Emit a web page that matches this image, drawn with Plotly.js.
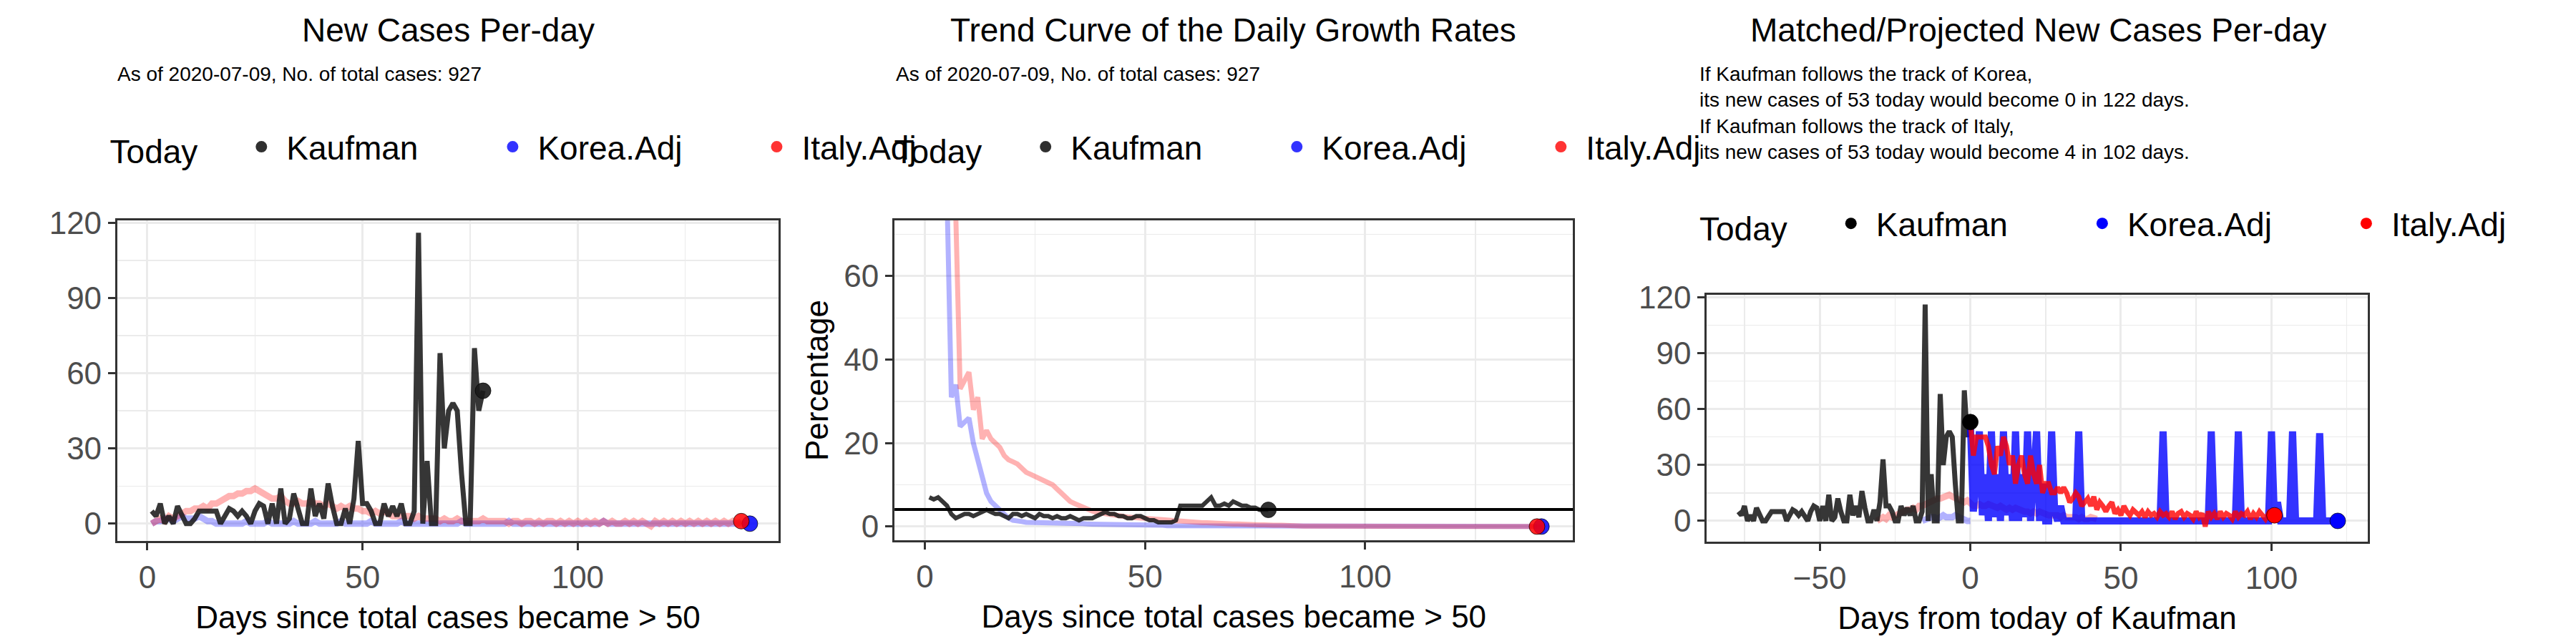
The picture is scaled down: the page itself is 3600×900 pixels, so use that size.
<!DOCTYPE html>
<html>
<head>
<meta charset="utf-8">
<script src="https://cdn.plot.ly/plotly-3.0.1.min.js"></script>
<style>
  html, body { margin: 0; padding: 0; background: #fff; }
  #chart { width: 3600px; height: 900px; }
</style>
</head>
<body>
<div id="chart"></div>
<script>
// Kaufman daily new cases, days 1..78 since total cases > 50
const kaufmanNew = [5,3,8,0,3,0,7,3,0,0,2,5,5,5,5,5,0,3,6,5,3,5,3,0,5,8,7,0,8,0,
  14,0,2,12,5,0,0,14,3,8,2,16,7,0,0,6,0,10,33,8,8,5,0,0,8,3,7,3,8,0,
  0,5,116,0,25,0,0,68,30,45,48,45,20,0,0,70,45,53];
// Italy.Adj new cases, days 1..138
const italyNew = [0,1,2,1,3,2,3,4,5,5, 6,6,7,6,8,8,9,10,11,11, 12,12,13,13,14,13,12,11,10,10,
  11,9,8,8,9,8,8,9,8,8, 7,8,7,6,7,6,7,6,6,5, 5,4,5,4,5,4,3,3,3,3,
  3,2,3,2,2,2,2,1,2,1, 1,2,1,1,1,1,1,2,1,1, 1,1,1,0,1,1,0,1,1,0,
  1,0,1,1,0,1,0,1,0,1, 0,1,0,1,0,1,0,1,0,0, 1,0,1,0,1,0,-1,1,0,1,
  0,1,0,1,0,1,0,1,0,1, 0,1,0,1,0,1,0,1];
// Korea.Adj new cases, days 1..140
const koreaNew = [0,1,1,2,2,1,2,3,2,2, 2,3,2,1,1,0,0,0,0,0, 0,0,1,0,0,0,0,1,0,0,
  0,0,0,1,0,0,0,0,1,0, 0,0,0,0,1,0,0,0,0,0, 0,1,0,0,0,0,0,0,1,0,
  0,0,0,0,0,0,0,0,0,0, 0,0,1,0,0,0,0,0,0,0, 0,0,0,1,0,0,0,0,0,0,
  0,0,0,0,0,0,0,0,0,0, 0,0,0,0,0,1,0,0,0,0, 0,0,0,0,0,0,0,0,0,0,
  0,0,0,0,0,0,0,0,0,0, 0,0,0,0,0,0,0,0,0,0];

// daily growth rates (%)
const kaufmanRate = [7,6.5,7,6,5,3,2,2.5,3,3, 2.5,3,3.5,4,3.5,3,3,2.5,2,3, 3,2.5,3,2.5,2,3,2.5,2.5,2,2.5,
  2,2,2.5,2,1.5,2,2,2,2.5,3, 3.5,3,3,2.5,2.5,2,2,2.5,2.5,2, 1.5,1.5,1,1,1,1,1.5,5,5,5,
  5,5,5,6,7,5,5,5.5,5,6, 5.5,5,5,4.5,4.5,4,4,4];
const italyRate = [200,160,130,110,95,85,75,33,35,37, 28,31,21,23,21,20,19,17,16,15.5,
  15,14,13,12.5,12,11.5,11,10.5,10,9, 8,7,6,5.5,5,4.5,4,3.7,3.4,3.2,
  3,2.8,2.6,2.5,2.4,2.3,2.2,2.1,2,2, 1.9,1.8,1.6,1.5,1.4,1.3,1.2,1.1,1.1,1,
  1,1,0.9,0.9,0.8,0.8,0.7,0.7,0.6,0.6, 0.6,0.5,0.5,0.5,0.5,0.4,0.4,0.3,0.3,0.3,
  0.3,0.2,0.2,0.2,0.2,0.1,0.1,0.1,0.1,0.1, 0.1,0.1,0,0.1,0,0.1,0,0.1,0,0.1,
  0,0.1,0,0,0.1,0,0,0.1,0,0, 0.1,0,0,0,0.1,0,0,0,0,0.1, 0,0,0,0,0,0,0,0,0,0,
  0,0,0,0,0,0,0,0,0];
const koreaRate = [200,150,120,100,80,31,34,24,25,26, 20,16,13,8,6,5,4,3,2,1.5,
  1.5,1.2,1,1,1,1,1,1,1,1, 0.8,0.8,0.8,0.7,0.7,0.7,0.6,0.6,0.6,0.6, 0.5,0.5,0.5,0.5,0.5,
  0.4,0.4,0.4,0.4,0.3,0.3,0.3,0.3,0.3,0.2,0.2,0.2,0.2,0.2,0.2,
  0.1,0.1,0.1,0.1,0.1,0.1,0.1,0.1,0.1,0.1, 0.1,0,0.1,0,0.1,0,0.1,0,0.1,0,
  0,0.1,0,0,0.1,0,0,0.1,0,0, 0,0,0.1,0,0,0,0,0.1,0,0, 0,0,0,0,0,0,0.1,0,0,0,
  0,0,0,0,0,0,0,0,0,0, 0,0,0,0,0,0,0,0,0,0, 0,0,0,0,0,0,0,0,0,0];
const thresholdRate = 4.1;

// projections from today of Kaufman (day 0..)
const koreaProj = [53,5,25,48,3,25,0,48,2,25, 0,48,3,25,0,48,0,25,2,48, 0,25,48,0,20,0,0,48,5,0,
  8,0,0,0,0,0,48,0,0,0, 0,0,0,0,0,0,0,0,0,0, 0,0,0,0,0,0,0,0,0,0,
  0,0,0,0,48,0,0,0,0,0, 0,0,0,0,0,0,0,0,0,0, 48,0,0,0,0,0,0,0,0,48,
  0,0,0,0,0,0,0,0,0,0, 48,0,10,0,0,0,0,48,0,0, 0,0,0,0,0,0,47,0,0,0, 0,0,0];
const italyProj = [53,35,45,45,45,45,40,30,25,40, 35,45,40,30,35,20,30,35,25,20,
  35,25,20,30,15,20,20,15,15,18, 15,18,15,10,12,15,13,8,10,12, 8,13,6,10,8,5,8,10,4,6,
  3,8,5,3,6,4,3,5,2,5, 3,4,2,5,3,4,2,5,1,4, 5,2,4,3,1,5,2,4,-3,5,
  2,4,1,5,2,4,3,1,5,2, 4,3,5,1,4,2,5,3,1,4, 2,3];

const seriesNames = ['Kaufman', 'Korea.Adj', 'Italy.Adj'];
const todayDay = kaufmanNew.length;   // 78
const italyShift = -32;
const koreaShift = -17;

const subtitleText = 'As of 2020-07-09, No. of total cases: 927';
const projText = 'If Kaufman follows the track of Korea,<br>its new cases of 53 today would become 0 in 122 days.<br>' +
  'If Kaufman follows the track of Italy,<br>its new cases of 53 today would become 4 in 102 days.';

const FONT = 'Liberation Sans, Arial, sans-serif';
const days = (arr, start = 1, shift = 0) => arr.map((_, i) => i + start + shift);
const last = (arr) => arr[arr.length - 1];

const cDark = 'rgba(26,26,26,0.88)';
const cBlueFaint = 'rgba(0,0,255,0.3)';
const cRedFaint = 'rgba(255,0,0,0.3)';

function line(x, y, color, width, xa, ya) {
  return { x, y, type: 'scatter', mode: 'lines', line: { color, width }, xaxis: xa, yaxis: ya, showlegend: false, hoverinfo: 'skip' };
}
function dot(x, y, color, xa, ya) {
  return { x: [x], y: [y], type: 'scatter', mode: 'markers', marker: { color, size: 22, line: { color: 'rgba(0,0,0,0.7)', width: 1 } }, xaxis: xa, yaxis: ya, showlegend: false };
}
function legendDots(legend, colors) {
  return seriesNames.map((name, i) => ({
    x: [null], y: [null], type: 'scatter', mode: 'markers', name: name + '\u2003\u2003', legend,
    marker: { color: colors[i], size: 22 }, xaxis: 'x', yaxis: 'y'
  }));
}

const traces = [
  // panel 1
  line(days(koreaNew), koreaNew, cBlueFaint, 9, 'x', 'y'),
  line(days(italyNew), italyNew, cRedFaint, 9, 'x', 'y'),
  line(days(kaufmanNew), kaufmanNew, cDark, 7, 'x', 'y'),
  dot(todayDay, last(kaufmanNew), 'rgba(26,26,26,0.9)', 'x', 'y'),
  dot(koreaNew.length, last(koreaNew), 'rgba(0,0,255,0.85)', 'x', 'y'),
  dot(italyNew.length, last(italyNew), 'rgba(255,0,0,0.85)', 'x', 'y'),
  // panel 2
  line(days(koreaRate), koreaRate, cBlueFaint, 7, 'x2', 'y2'),
  line(days(italyRate), italyRate, cRedFaint, 7, 'x2', 'y2'),
  line(days(kaufmanRate), kaufmanRate, cDark, 6, 'x2', 'y2'),
  dot(todayDay, last(kaufmanRate), 'rgba(26,26,26,0.9)', 'x2', 'y2'),
  dot(koreaRate.length, last(koreaRate), 'rgba(0,0,255,0.85)', 'x2', 'y2'),
  dot(italyRate.length, last(italyRate), 'rgba(255,0,0,0.85)', 'x2', 'y2'),
  // panel 3
  line(days(italyNew.slice(0, 74), 1, italyShift), italyNew.slice(0, 74), cRedFaint, 9, 'x3', 'y3'),
  line(days(koreaNew.slice(0, 17), 1, koreaShift), koreaNew.slice(0, 17), cBlueFaint, 9, 'x3', 'y3'),
  line(days(kaufmanNew, 1, -todayDay), kaufmanNew, cDark, 7, 'x3', 'y3'),
  line(days(koreaProj, 0), koreaProj, 'rgba(0,0,255,0.8)', 10, 'x3', 'y3'),
  line(days(italyProj, 0), italyProj, 'rgba(255,0,0,0.8)', 7, 'x3', 'y3'),
  dot(0, last(kaufmanNew), '#000', 'x3', 'y3'),
  dot(koreaProj.length - 1, last(koreaProj), '#0000ff', 'x3', 'y3'),
  dot(italyProj.length - 1, last(italyProj), '#ff0000', 'x3', 'y3'),
  ...legendDots('legend', ['rgba(26,26,26,0.9)', 'rgba(0,0,255,0.8)', 'rgba(255,0,0,0.8)']),
  ...legendDots('legend2', ['rgba(26,26,26,0.9)', 'rgba(0,0,255,0.8)', 'rgba(255,0,0,0.8)']),
  ...legendDots('legend3', ['#000', '#0000ff', '#ff0000'])
];

function xaxis(domain, range, dtick, minor, title, anchor) {
  return {
    domain, range, dtick, anchor, zeroline: false,
    showline: true, mirror: true, linecolor: '#333', linewidth: 3,
    ticks: 'outside', ticklen: 10, tickwidth: 3, tickcolor: '#333',
    tickfont: { size: 44, color: '#4d4d4d', family: FONT },
    showgrid: true, gridcolor: '#ebebeb', gridwidth: 3,
    minor: { dtick: minor, showgrid: true, gridcolor: '#ebebeb', gridwidth: 1.5 },
    title: { text: title, font: { size: 44, color: '#000', family: FONT }, standoff: 18 }
  };
}
function yaxis(domain, range, dtick, minor, title, anchor) {
  const a = xaxis(domain, range, dtick, minor, title, anchor);
  a.title.standoff = 8;
  return a;
}

const legendBase = {
  orientation: 'h', xanchor: 'left', yanchor: 'middle', bgcolor: 'rgba(0,0,0,0)',
  font: { size: 46, color: '#000', family: FONT }, itemwidth: 60,
  title: { text: 'Today\u2003', side: 'left', font: { size: 46, color: '#000', family: FONT } }
};

const layout = {
  width: 3600, height: 900,
  margin: { l: 0, r: 0, t: 0, b: 0 },
  paper_bgcolor: '#fff', plot_bgcolor: '#fff',
  font: { family: FONT },
  xaxis: xaxis([0.0492, 0.3267], [-7, 146.7], 50, 25, 'Days since total cases became > 50', 'y'),
  yaxis: yaxis([0.16, 0.658], [-6.9, 121], 30, 15, '', 'x'),
  xaxis2: xaxis([0.3753, 0.66], [-6.9, 147.2], 50, 25, 'Days since total cases became > 50', 'y2'),
  yaxis2: yaxis([0.161, 0.658], [-3.3, 73.4], 20, 10, 'Percentage', 'x2'),
  xaxis3: xaxis([0.7161, 0.9933], [-87.5, 131.9], 50, 25, 'Days from today of Kaufman', 'y3'),
  yaxis3: yaxis([0.159, 0.5422], [-11.1, 121.2], 30, 15, '', 'x3'),
  shapes: [{
    type: 'line', xref: 'x2 domain', yref: 'y2', x0: 0, x1: 1,
    y0: thresholdRate, y1: thresholdRate, line: { color: '#000', width: 4 }
  }],
  legend: { ...legendBase, x: 0.0455, y: 0.772 },
  legend2: { ...legendBase, x: 0.3745, y: 0.772 },
  legend3: { ...legendBase, x: 0.7125, y: 0.653 },
  annotations: [
    { text: 'New Cases Per-day', x: 0.188, y: 42 },
    { text: 'Trend Curve of the Daily Growth Rates', x: 0.5175, y: 42 },
    { text: 'Matched/Projected New Cases Per-day', x: 0.855, y: 42 }
  ].map((a) => ({
    text: a.text, xref: 'paper', yref: 'paper', x: a.x, y: 1 - a.y / 900,
    xanchor: 'center', yanchor: 'middle', showarrow: false,
    font: { size: 46, color: '#000', family: FONT }
  })).concat([
    { text: subtitleText, x: 0.0486 },
    { text: subtitleText, x: 0.3753 }
  ].map((a) => ({
    text: a.text, xref: 'paper', yref: 'paper', x: a.x, y: 1 - 104 / 900,
    xanchor: 'left', yanchor: 'middle', showarrow: false,
    font: { size: 28, color: '#000', family: FONT }
  }))).concat([{
    text: projText, xref: 'paper', yref: 'paper', x: 0.7125, y: 1 - 86 / 900,
    xanchor: 'left', yanchor: 'top', align: 'left', showarrow: false,
    font: { size: 28, color: '#000', family: FONT }
  }])
};

Plotly.newPlot('chart', traces, layout, { displayModeBar: false, staticPlot: true });
</script>
</body>
</html>
